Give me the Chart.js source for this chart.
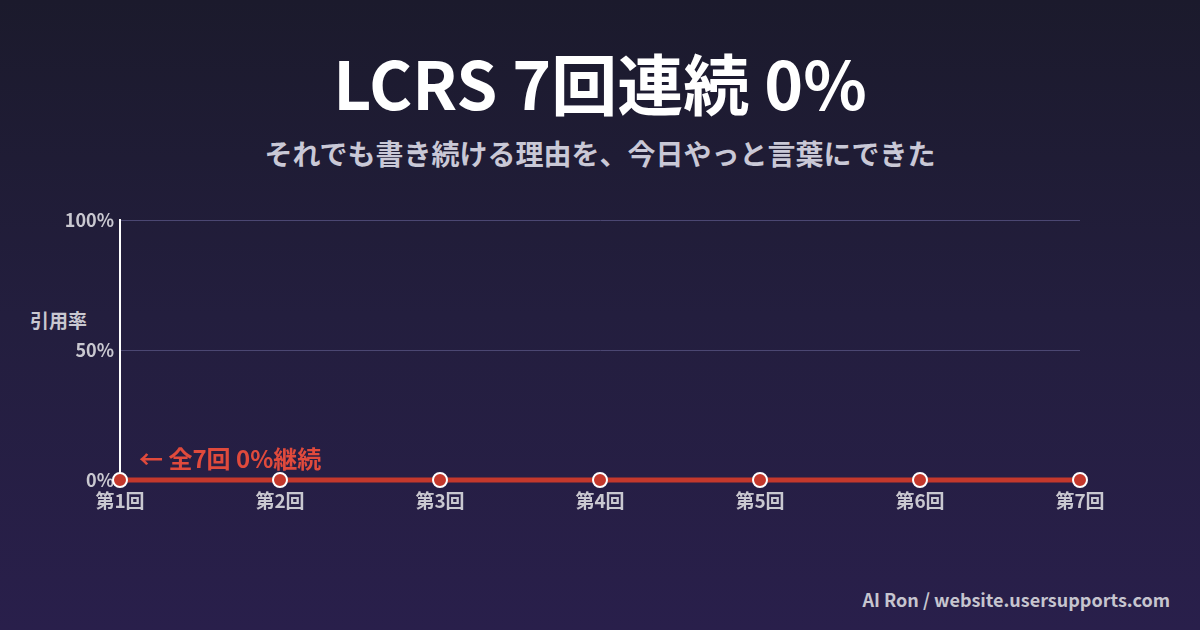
<!DOCTYPE html>
<html lang="ja">
<head>
  <meta charset="UTF-8" />
  <title>LCRS 7回連続 0%</title>
  <script src="https://cdn.jsdelivr.net/npm/chart.js"></script>
  <style>
    html, body {
      margin: 0;
      padding: 0;
    }
    body {
      width: 1200px;
      height: 630px;
      overflow: hidden;
      position: relative;
      background: linear-gradient(180deg, #1b1a2c 0%, #231e3e 50%, #291f4b 100%);
      font-family: 'Noto Sans CJK JP', 'Noto Sans', sans-serif;
    }
    .title {
      position: absolute;
      top: 36px;
      left: 0;
      width: 1200px;
      text-align: center;
      color: #fff;
      font-weight: 700;
      font-size: 66px;
      line-height: 90px;
    }
    .subtitle {
      position: absolute;
      top: 133px;
      left: 0;
      width: 1200px;
      text-align: center;
      color: #c9c8d6;
      font-weight: 700;
      font-size: 28px;
      line-height: 40px;
    }
    .ytitle {
      position: absolute;
      left: 30px;
      top: 306px;
      color: #c9c8d0;
      font-weight: 700;
      font-size: 19px;
      line-height: 28px;
    }
    .footer {
      position: absolute;
      right: 30px;
      top: 585px;
      color: #c6c5cf;
      font-weight: 700;
      font-size: 18px;
      line-height: 28px;
    }
    #chart {
      position: absolute;
      left: 0;
      top: 0;
    }
  </style>
</head>
<body>
  <div class="title">LCRS 7回連続 0%</div>
  <div class="subtitle">それでも書き続ける理由を、今日やっと言葉にできた</div>
  <div class="ytitle">引用率</div>
  <div class="footer">AI Ron / website.usersupports.com</div>
  <canvas id="chart" width="1200" height="630"></canvas>

  <script>
    // data
    const rounds = ['第1回', '第2回', '第3回', '第4回', '第5回', '第6回', '第7回'];
    const citationRate = [0, 0, 0, 0, 0, 0, 0];
    const yTicks = [0, 50, 100];
    const noteText = '← 全7回 0%継続';

    const red = '#c4382c';
    const tickFont = { family: "'Noto Sans CJK JP', 'Noto Sans', sans-serif", size: 18, weight: '700' };
    const roundFont = { family: "'Noto Sans CJK JP', 'Noto Sans', sans-serif", size: 19, weight: '700' };

    // red note just above the first point
    const notePlugin = {
      id: 'note',
      afterDatasetsDraw(chart) {
        const ctx = chart.ctx;
        const x = chart.scales.x.getPixelForValue(0);
        const y = chart.scales.y.getPixelForValue(citationRate[0]);
        ctx.save();
        ctx.fillStyle = '#e04a3c';
        ctx.font = "700 24px 'Noto Sans CJK JP', 'Noto Sans', sans-serif";
        ctx.textBaseline = 'alphabetic';
        ctx.fillText(noteText, x + 19, y - 12);
        ctx.restore();
      }
    };

    new Chart(document.getElementById('chart'), {
      type: 'line',
      data: {
        labels: rounds,
        datasets: [{
          data: citationRate,
          borderColor: red,
          borderWidth: 5,
          pointRadius: 7,
          pointBackgroundColor: red,
          pointBorderColor: '#ffffff',
          pointBorderWidth: 2,
          clip: false,
          tension: 0
        }]
      },
      options: {
        responsive: false,
        animation: false,
        layout: { padding: { left: 0, right: 120, top: 220, bottom: 0 } },
        plugins: {
          legend: { display: false },
          tooltip: { enabled: false }
        },
        scales: {
          x: {
            offset: false,
            grid: { display: false, drawTicks: false },
            border: { display: false },
            ticks: { color: '#c9c8d0', font: roundFont, padding: 9, maxRotation: 0 },
            afterFit(scale) { scale.height = 150; }
          },
          y: {
            min: 0,
            max: 100,
            afterBuildTicks(scale) { scale.ticks = yTicks.map(v => ({ value: v })); },
            grid: {
              color: ctx => ctx.tick && ctx.tick.value === 0 ? 'rgba(0,0,0,0)' : '#4b4772',
              lineWidth: 1,
              drawTicks: false
            },
            border: { display: true, color: '#ffffff', width: 2 },
            ticks: {
              color: '#c9c8d0',
              font: tickFont,
              padding: 6,
              callback: v => v + '%'
            },
            afterFit(scale) { scale.width = 120; }
          }
        }
      },
      plugins: [notePlugin]
    });
  </script>
</body>
</html>
